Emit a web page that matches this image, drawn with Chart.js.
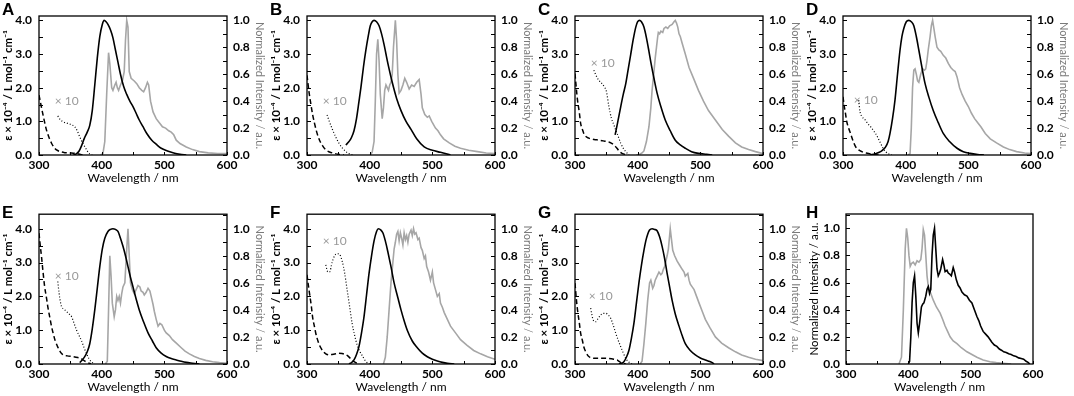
<!DOCTYPE html>
<html>
<head>
<meta charset="utf-8">
<script src="https://cdn.jsdelivr.net/npm/chart.js@4/dist/chart.umd.min.js"></script>
<style>
  body { margin: 0; background: #fff; width: 1074px; height: 396px; position: relative; overflow: hidden; }
  canvas { position: absolute; }
</style>
</head>
<body>
<canvas id="cA" width="268" height="185" style="left:0;top:0"></canvas>
<canvas id="cB" width="268" height="185" style="left:268px;top:0"></canvas>
<canvas id="cC" width="268" height="185" style="left:536px;top:0"></canvas>
<canvas id="cD" width="268" height="185" style="left:804px;top:0"></canvas>
<canvas id="cE" width="268" height="194" style="left:0;top:200px"></canvas>
<canvas id="cF" width="268" height="194" style="left:268px;top:200px"></canvas>
<canvas id="cG" width="268" height="194" style="left:536px;top:200px"></canvas>
<canvas id="cH" width="268" height="194" style="left:804px;top:200px"></canvas>
<script>
// wavelength (nm) / value pairs
// abs = dashed (epsilon x 1e-4), dot = dotted (x10), fl = black (normalized), ph = grey (normalized)
const absA = [[300,1.78],[303,1.5],[306,1.23],[309,0.97],[312,0.74],[316,0.52],[320,0.35],[324,0.23],[328,0.15],[334,0.1],[341,0.07],[350,0.06],[357,0.05],[363,0.03],[370,0]];
const dotA = [[330,1.16],[334,1.05],[338,0.99],[344,0.95],[349,0.92],[353,0.89],[357,0.84],[361,0.72],[365,0.54],[369,0.38],[373,0.25],[377,0.12],[381,0.03],[385,0]];
const flA = [[355,0],[360,0.01],[364,0.03],[368,0.07],[372,0.12],[377,0.17],[381,0.22],[385,0.33],[389,0.52],[393,0.72],[397,0.88],[401,0.97],[404,1.0],[407,0.99],[410,0.97],[414,0.93],[418,0.87],[422,0.78],[426,0.69],[430,0.6],[435,0.51],[440,0.45],[445,0.4],[450,0.36],[455,0.31],[460,0.26],[466,0.21],[472,0.16],[480,0.11],[487,0.08],[495,0.05],[505,0.03],[515,0.015],[525,0.005],[535,0]];
const phA = [[398,0],[402,0.01],[405,0.1],[408,0.45],[411,0.76],[413,0.68],[416,0.5],[418,0.48],[421,0.52],[423,0.54],[425,0.5],[427,0.48],[430,0.52],[433,0.55],[436,0.62],[438,0.85],[440,1.0],[442,0.95],[444,0.62],[447,0.57],[452,0.55],[456,0.53],[460,0.5],[464,0.48],[467,0.47],[470,0.5],[473,0.54],[475,0.52],[478,0.4],[482,0.32],[487,0.27],[492,0.24],[497,0.21],[502,0.2],[507,0.18],[511,0.17],[515,0.15],[519,0.11],[525,0.085],[535,0.06],[545,0.04],[556,0.025],[570,0.016],[585,0.011],[600,0.01]];

const absB = [[300,2.37],[303,1.9],[306,1.53],[309,1.2],[312,0.94],[316,0.65],[320,0.44],[325,0.27],[330,0.15],[336,0.09],[343,0.05],[350,0.02],[359,0]];
const dotB = [[332,1.19],[336,0.98],[341,0.74],[346,0.53],[351,0.35],[356,0.22],[362,0.1],[367,0.04],[373,0]];
const flB = [[362,0.074],[367,0.1],[371,0.13],[375,0.18],[379,0.27],[383,0.4],[386,0.5],[390,0.65],[394,0.78],[398,0.89],[401,0.96],[404,0.99],[407,1.0],[411,0.99],[415,0.96],[419,0.9],[423,0.82],[426,0.75],[430,0.66],[436,0.54],[443,0.42],[450,0.33],[458,0.25],[466,0.19],[475,0.12],[487,0.06],[500,0.035],[513,0.02],[529,0]];
const phB = [[401,0],[404,0.02],[407,0.1],[409,0.4],[411,0.75],[413,0.86],[415,0.7],[417,0.45],[420,0.27],[422,0.35],[424,0.48],[426,0.52],[428,0.5],[430,0.48],[432,0.52],[434,0.54],[436,0.6],[438,0.8],[441,1.0],[443,0.85],[445,0.6],[447,0.46],[450,0.48],[453,0.52],[456,0.57],[459,0.54],[463,0.49],[467,0.52],[471,0.51],[475,0.54],[479,0.56],[482,0.45],[484,0.35],[488,0.3],[492,0.28],[495,0.29],[499,0.25],[505,0.2],[509,0.18],[513,0.15],[518,0.12],[527,0.09],[536,0.065],[545,0.05],[558,0.035],[572,0.025],[586,0.015],[600,0.01]];

const absC = [[300,2.42],[302,2.0],[304,1.63],[307,1.25],[309,0.94],[312,0.75],[314,0.64],[318,0.54],[322,0.5],[328,0.47],[335,0.45],[345,0.42],[355,0.38],[362,0.3],[367,0.2],[371,0.1],[375,0.05],[383,0]];
const dotC = [[330,2.52],[334,2.35],[338,2.22],[343,2.12],[347,2.02],[350,1.9],[354,1.45],[358,1.1],[362,0.9],[365,0.74],[369,0.55],[373,0.35],[377,0.2],[381,0.1],[386,0]];
const flC = [[364,0.15],[368,0.24],[373,0.36],[377,0.45],[381,0.53],[385,0.64],[389,0.75],[393,0.86],[397,0.95],[400,0.99],[403,1.0],[406,0.99],[410,0.95],[414,0.87],[418,0.77],[421,0.69],[426,0.57],[431,0.46],[437,0.36],[444,0.26],[452,0.18],[460,0.11],[468,0.075],[476,0.05],[486,0.025],[497,0.012],[510,0.005],[519,0]];
const phC = [[398,0],[403,0.005],[407,0.015],[410,0.03],[414,0.1],[418,0.21],[421,0.35],[423,0.48],[426,0.62],[428,0.72],[430,0.8],[432,0.88],[433,0.91],[435,0.9],[437,0.92],[440,0.91],[442,0.94],[445,0.95],[448,0.94],[451,0.96],[455,0.97],[458,0.99],[460,1.0],[462,0.98],[464,0.95],[466,0.9],[468,0.88],[471,0.83],[476,0.75],[482,0.65],[490,0.56],[497,0.48],[505,0.4],[513,0.33],[524,0.26],[535,0.19],[545,0.14],[556,0.09],[566,0.06],[577,0.04],[588,0.025],[600,0.01]];

const absD = [[300,1.73],[302,1.45],[304,1.23],[306,0.99],[309,0.8],[312,0.64],[316,0.42],[320,0.25],[325,0.15],[330,0.1],[337,0.06],[344,0.03],[352,0.01],[360,0]];
const dotD = [[325,1.63],[327,1.3],[330,1.15],[335,1.05],[340,0.92],[344,0.84],[348,0.74],[352,0.64],[356,0.5],[360,0.35],[364,0.2],[368,0.1],[372,0.04],[378,0]];
const flD = [[343,0],[352,0.01],[360,0.025],[364,0.04],[368,0.06],[372,0.1],[375,0.16],[379,0.27],[383,0.41],[387,0.6],[391,0.78],[394,0.88],[397,0.94],[401,0.99],[405,1.0],[409,0.99],[413,0.96],[417,0.88],[421,0.78],[426,0.65],[431,0.53],[437,0.43],[444,0.33],[452,0.24],[460,0.16],[470,0.1],[482,0.05],[492,0.025],[503,0.012],[515,0.004],[525,0]];
const phD = [[404,0],[407,0.01],[409,0.2],[411,0.5],[413,0.63],[415,0.64],[417,0.6],[419,0.55],[421,0.54],[424,0.6],[427,0.64],[430,0.63],[432,0.64],[434,0.7],[436,0.78],[439,0.88],[441,0.96],[443,1.0],[445,0.94],[447,0.88],[450,0.8],[453,0.78],[456,0.77],[460,0.74],[464,0.72],[468,0.68],[472,0.65],[476,0.63],[479,0.62],[482,0.58],[486,0.5],[490,0.45],[495,0.4],[500,0.36],[505,0.31],[510,0.27],[515,0.24],[520,0.21],[527,0.16],[535,0.12],[545,0.09],[556,0.06],[566,0.04],[577,0.025],[590,0.015],[600,0.01]];

const absE = [[300,3.87],[302,3.5],[304,3.18],[306,2.8],[309,2.29],[312,1.95],[314,1.7],[317,1.4],[320,1.11],[323,0.88],[326,0.68],[330,0.5],[334,0.36],[338,0.28],[345,0.24],[354,0.22],[362,0.19],[367,0.16],[372,0.1],[378,0.04],[383,0]];
const dotE = [[330,2.44],[332,2.1],[334,1.85],[336,1.7],[340,1.62],[344,1.55],[348,1.48],[352,1.4],[356,1.2],[360,1.0],[364,0.84],[368,0.68],[372,0.48],[376,0.3],[380,0.15],[384,0.06],[389,0]];
const flE = [[365,0.01],[369,0.03],[373,0.055],[377,0.09],[381,0.15],[385,0.26],[389,0.4],[393,0.56],[397,0.72],[401,0.85],[405,0.93],[410,0.98],[414,0.995],[418,1.0],[422,0.995],[426,0.98],[430,0.93],[434,0.87],[438,0.8],[442,0.72],[446,0.64],[450,0.57],[455,0.48],[460,0.4],[467,0.31],[474,0.23],[481,0.17],[487,0.12],[495,0.08],[503,0.055],[511,0.04],[519,0.03],[527,0.02],[535,0.012],[545,0.006],[556,0]];
const phE = [[406,0],[409,0.02],[411,0.4],[413,0.8],[415,0.65],[417,0.45],[420,0.35],[422,0.4],[424,0.5],[426,0.47],[428,0.5],[430,0.45],[432,0.52],[434,0.57],[437,0.6],[440,0.85],[442,1.0],[444,0.8],[446,0.6],[449,0.55],[452,0.52],[455,0.55],[458,0.58],[461,0.57],[463,0.54],[466,0.53],[468,0.51],[471,0.53],[474,0.56],[477,0.54],[479,0.5],[482,0.44],[484,0.39],[487,0.33],[490,0.28],[493,0.3],[496,0.29],[500,0.25],[503,0.23],[508,0.21],[513,0.18],[520,0.15],[527,0.12],[533,0.095],[540,0.075],[548,0.055],[556,0.04],[566,0.027],[577,0.017],[588,0.01],[600,0.005]];

const absF = [[300,2.64],[302,2.35],[304,2.09],[307,1.7],[309,1.38],[312,1.1],[314,0.91],[318,0.65],[322,0.48],[326,0.37],[330,0.3],[335,0.27],[340,0.28],[346,0.3],[351,0.32],[356,0.31],[361,0.28],[365,0.24],[369,0.17],[372,0.12],[375,0.07],[379,0.03],[383,0]];
const dotF = [[330,2.93],[333,2.73],[336,2.72],[340,3.0],[344,3.2],[348,3.26],[352,3.24],[356,3.05],[360,2.7],[364,2.2],[368,1.7],[372,1.2],[376,0.85],[380,0.56],[384,0.38],[389,0.22],[393,0.1],[397,0.02],[400,0]];
const flF = [[367,0],[371,0.01],[375,0.03],[379,0.07],[383,0.13],[387,0.23],[391,0.35],[395,0.51],[399,0.67],[403,0.8],[407,0.91],[411,0.98],[414,1.0],[418,0.99],[421,0.97],[425,0.91],[429,0.83],[434,0.72],[439,0.6],[445,0.49],[450,0.4],[455,0.32],[460,0.25],[468,0.17],[476,0.12],[484,0.08],[492,0.054],[500,0.035],[508,0.022],[516,0.012],[524,0.005],[535,0]];
const phF = [[422,0],[425,0.05],[428,0.2],[431,0.4],[434,0.6],[437,0.75],[439,0.85],[441,0.9],[443,0.96],[445,0.98],[447,0.91],[449,0.97],[451,0.93],[453,0.88],[455,0.97],[457,0.92],[459,0.95],[461,0.9],[463,0.96],[466,0.99],[468,0.95],[470,1.0],[472,0.96],[474,0.97],[477,0.92],[479,0.93],[482,0.86],[484,0.84],[487,0.78],[489,0.8],[491,0.72],[494,0.68],[497,0.62],[500,0.68],[502,0.6],[505,0.55],[508,0.5],[511,0.52],[513,0.45],[516,0.42],[519,0.38],[524,0.33],[529,0.28],[537,0.23],[545,0.18],[555,0.14],[566,0.1],[577,0.075],[588,0.054],[600,0.035]];

const absG = [[300,2.39],[302,1.95],[304,1.6],[307,1.2],[309,0.91],[312,0.68],[314,0.51],[318,0.33],[322,0.22],[327,0.18],[333,0.17],[345,0.17],[354,0.16],[362,0.14],[367,0.12],[371,0.07],[375,0.02],[381,0]];
const dotG = [[325,1.65],[327,1.45],[329,1.3],[333,1.25],[337,1.35],[341,1.45],[345,1.5],[349,1.5],[353,1.45],[357,1.35],[361,1.15],[365,0.91],[369,0.7],[373,0.51],[377,0.33],[381,0.17],[385,0.07],[389,0.02],[391,0]];
const flG = [[370,0],[374,0.005],[378,0.017],[382,0.05],[386,0.1],[390,0.19],[394,0.3],[398,0.45],[402,0.6],[406,0.73],[410,0.84],[413,0.91],[416,0.96],[419,0.99],[423,1.0],[427,0.995],[431,0.985],[435,0.94],[439,0.87],[443,0.78],[447,0.67],[451,0.57],[455,0.47],[460,0.37],[466,0.28],[471,0.21],[476,0.15],[484,0.1],[492,0.067],[500,0.045],[508,0.03],[515,0.018],[519,0.01],[522,0]];
const phG = [[404,0],[407,0.02],[410,0.15],[413,0.3],[416,0.47],[419,0.6],[421,0.62],[424,0.56],[426,0.58],[428,0.62],[431,0.65],[434,0.68],[437,0.66],[439,0.67],[441,0.7],[443,0.72],[445,0.76],[447,0.8],[449,0.85],[451,0.95],[452,1.0],[454,0.92],[456,0.84],[459,0.8],[463,0.76],[467,0.73],[471,0.7],[474,0.68],[476,0.65],[478,0.66],[480,0.67],[482,0.62],[484,0.59],[487,0.57],[490,0.55],[494,0.5],[498,0.45],[503,0.39],[508,0.33],[515,0.27],[524,0.2],[534,0.155],[545,0.12],[556,0.09],[566,0.067],[577,0.05],[588,0.035],[600,0.025]];

// panel H: two normalized emission spectra
const greyH = [[385,0],[389,0.05],[392,0.4],[395,0.85],[397,1.0],[399,0.93],[401,0.8],[403,0.72],[405,0.74],[408,0.75],[411,0.73],[414,0.76],[417,0.75],[420,0.77],[422,0.85],[424,0.99],[426,0.95],[428,0.8],[430,0.65],[432,0.57],[436,0.52],[440,0.47],[445,0.42],[451,0.375],[455,0.33],[459,0.28],[463,0.24],[467,0.2],[472,0.17],[478,0.15],[485,0.12],[494,0.09],[502,0.07],[510,0.05],[520,0.03],[531,0.017],[541,0.01],[552,0.005],[565,0]];
const blackH = [[400,0],[402,0.02],[404,0.2],[406,0.45],[408,0.6],[410,0.65],[412,0.5],[414,0.3],[416,0.23],[418,0.3],[421,0.42],[423,0.44],[425,0.45],[428,0.5],[430,0.55],[432,0.57],[434,0.52],[436,0.55],[438,0.8],[440,0.95],[442,1.0],[444,0.85],[446,0.7],[448,0.65],[450,0.67],[452,0.7],[455,0.77],[457,0.73],[459,0.68],[462,0.69],[464,0.67],[467,0.66],[469,0.65],[472,0.71],[474,0.68],[477,0.62],[480,0.58],[483,0.56],[486,0.53],[490,0.51],[494,0.5],[498,0.47],[502,0.45],[506,0.4],[510,0.35],[513,0.32],[516,0.28],[520,0.24],[524,0.22],[528,0.2],[531,0.18],[534,0.16],[538,0.14],[542,0.13],[546,0.11],[550,0.1],[553,0.09],[557,0.085],[561,0.075],[565,0.07],[569,0.06],[573,0.055],[577,0.045],[581,0.04],[585,0.035],[589,0.02],[592,0.012],[595,0]];

const xTicks = [300, 400, 500, 600];

const GREY = '#a6a6a6';
const FONT = 'Lato, "DejaVu Sans", sans-serif';

function pts(arr) {
    return arr.map(p => ({ x: p[0], y: p[1] }));
}

// inward ticks, plot frame, panel letter and "x 10" note
const framePlugin = {
    id: 'frame',
    afterDraw(chart, args, opts) {
        const ctx = chart.ctx;
        const a = chart.chartArea;
        ctx.save();
        ctx.strokeStyle = '#000';
        ctx.lineWidth = 1;
        opts.marks.forEach(m => {
            const s = chart.scales[m.id];
            const n = Math.floor((s.max - s.min) / m.step + 1e-6);
            for (let i = 0; i <= n; i++) {
                const p = Math.round(s.getPixelForValue(s.min + i * m.step)) + 0.5;
                ctx.beginPath();
                if (m.id === 'x') { ctx.moveTo(p, a.bottom); ctx.lineTo(p, a.bottom - 3); }
                else if (m.id === 'y') { ctx.moveTo(a.left, p); ctx.lineTo(a.left + 4, p); }
                else { ctx.moveTo(a.right, p); ctx.lineTo(a.right - 4, p); }
                ctx.stroke();
            }
        });
        ctx.lineWidth = 1.3;
        ctx.strokeRect(a.left, a.top, a.right - a.left, a.bottom - a.top);

        ctx.fillStyle = '#000';
        ctx.font = 'bold 17px "Liberation Sans", Arial, sans-serif';
        ctx.textBaseline = 'alphabetic';
        ctx.textAlign = 'left';
        ctx.fillText(opts.letter, 2, opts.letterY);

        if (opts.note) {
            ctx.fillStyle = '#999';
            ctx.font = '12px ' + FONT;
            ctx.textBaseline = 'middle';
            ctx.fillText('\u00d7 10', chart.scales.x.getPixelForValue(opts.note[0]), chart.scales.y.getPixelForValue(opts.note[1]));
        }
        ctx.restore();
    }
};

function xScale() {
    return {
        type: 'linear', min: 300, max: 600,
        afterFit: s => { s.height = 30; },
        afterBuildTicks: s => { s.ticks = xTicks.map(v => ({ value: v })); },
        grid: { display: false, drawTicks: false },
        border: { display: false },
        ticks: { padding: 3, color: '#000', font: { family: FONT, size: 12, weight: 'bold' }, maxRotation: 0, autoSkip: false },
        title: { display: true, text: 'Wavelength / nm', color: '#000', padding: 0, font: { family: FONT, size: 12 } }
    };
}

function yScale(max, step, width, title, titleColor, titleBold, size) {
    return {
        min: 0, max: max,
        afterFit: s => { s.width = width; },
        grid: { display: false, drawTicks: false },
        border: { display: false },
        ticks: {
            stepSize: step, includeBounds: false, padding: 7, color: '#000',
            font: { family: FONT, size: 12, weight: 'bold' },
            callback: v => v.toFixed(1)
        },
        title: { display: true, text: title, color: titleColor, padding: { top: 1, bottom: 0 },
                 font: { family: FONT, size: size, weight: titleBold ? 'bold' : 'normal' } }
    };
}

function drawPanel(id, letter, row, abs, dot, fl, ph, note) {
    const top = row === 0 ? 16 : 14;
    const yMax = row === 0 ? 4.13 : 4.43;
    const left = yScale(yMax, 1, 39, '\u03b5 \u00d7 10\u207b\u2074 / L mol\u207b\u00b9 cm\u207b\u00b9', '#000', true, 11.5);
    const right = yScale(yMax / 4, 0.2, 41, 'Normalized Intensity / a.u.', '#7a7a7a', false, 11);
    right.position = 'right';
    right.ticks.padding = 6;
    right.title.padding = { top: 2, bottom: 0 };

    new Chart(document.getElementById(id), {
        type: 'line',
        data: {
            datasets: [
                { data: pts(fl), yAxisID: 'y1', borderColor: '#000', borderWidth: 1.6, cubicInterpolationMode: 'monotone' },
                { data: pts(abs), yAxisID: 'y', borderColor: '#000', borderWidth: 1.5, borderDash: [5, 3], cubicInterpolationMode: 'monotone' },
                { data: pts(dot), yAxisID: 'y', borderColor: '#000', borderWidth: 1.2, borderDash: [1, 2], cubicInterpolationMode: 'monotone' },
                { data: pts(ph), yAxisID: 'y1', borderColor: GREY, borderWidth: 1.6 }
            ]
        },
        options: {
            responsive: false,
            animation: false,
            layout: { padding: { top: top, left: 0, right: 0, bottom: 0 } },
            elements: { point: { radius: 0 }, line: { tension: 0 } },
            plugins: {
                legend: { display: false },
                tooltip: { enabled: false },
                frame: {
                    letter: letter, letterY: row === 0 ? 15 : 18, note: note,
                    marks: [{ id: 'x', step: 50 }, { id: 'y', step: 0.5 }, { id: 'y1', step: 0.1 }]
                }
            },
            scales: { x: xScale(), y: left, y1: right }
        },
        plugins: [framePlugin]
    });
}

drawPanel('cA', 'A', 0, absA, dotA, flA, phA, [325, 1.61]);
drawPanel('cB', 'B', 0, absB, dotB, flB, phB, [325, 1.61]);
drawPanel('cC', 'C', 0, absC, dotC, flC, phC, [325, 2.72]);
drawPanel('cD', 'D', 0, absD, dotD, flD, phD, [317, 1.63]);
drawPanel('cE', 'E', 1, absE, dotE, flE, phE, [325, 2.61]);
drawPanel('cF', 'F', 1, absF, dotF, flF, phF, [325, 3.62]);
drawPanel('cG', 'G', 1, absG, dotG, flG, phG, [322, 2.0]);

// panel H
const hLeft = yScale(1.105, 0.2, 42, 'Normalized Intensity / a.u.', '#000', false, 11.5);
hLeft.ticks.padding = 6;
hLeft.title.padding = { top: 3, bottom: 0 };
new Chart(document.getElementById('cH'), {
    type: 'line',
    data: {
        datasets: [
            { data: pts(blackH), yAxisID: 'y', borderColor: '#000', borderWidth: 1.6 },
            { data: pts(greyH), yAxisID: 'y', borderColor: GREY, borderWidth: 1.6 }
        ]
    },
    options: {
        responsive: false,
        animation: false,
        layout: { padding: { top: 14, left: 0, right: 39, bottom: 0 } },
        elements: { point: { radius: 0 }, line: { tension: 0 } },
        plugins: {
            legend: { display: false },
            tooltip: { enabled: false },
            frame: { letter: 'H', letterY: 18, note: null, marks: [{ id: 'x', step: 50 }, { id: 'y', step: 0.1 }] }
        },
        scales: { x: xScale(), y: hLeft }
    },
    plugins: [framePlugin]
});
</script>
</body>
</html>
